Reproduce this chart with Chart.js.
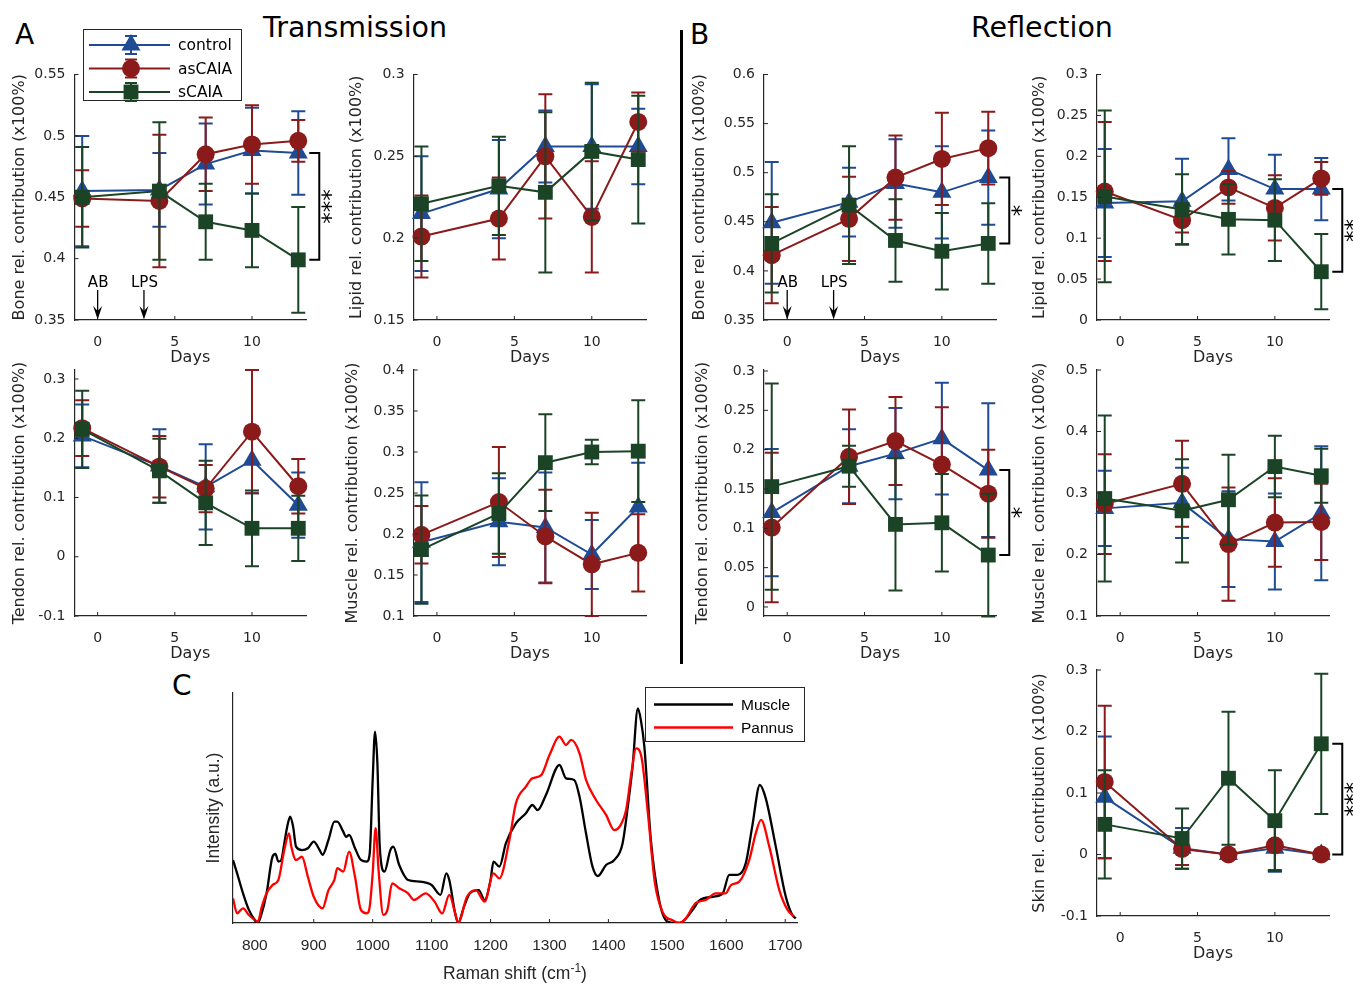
<!DOCTYPE html>
<html>
<head>
<meta charset="utf-8">
<title>Transmission / Reflection contributions</title>
<script src="https://cdn.jsdelivr.net/npm/chart.js@4.4.1/dist/chart.umd.min.js"></script>
<style>
  html, body { margin:0; padding:0; background:#ffffff; }
  #fig { position:relative; width:1353px; height:984px; overflow:hidden; background:#fff; }
  #fig canvas { position:absolute; left:0; top:0; }
  .lbl { position:absolute; line-height:0; white-space:nowrap; font-family:'DejaVu Sans', sans-serif; color:#000; }
  #divider { position:absolute; left:680px; top:30px; width:3px; height:634px; background:#000; }
</style>
</head>
<body>
<div id="fig">
  <div class="lbl" style="left:15px; top:35.3px; font-size:28px;">A</div>
  <div class="lbl" style="left:690px; top:35.3px; font-size:28px;">B</div>
  <div class="lbl" style="left:172px; top:686.3px; font-size:28px;">C</div>
  <div class="lbl" style="left:355px; top:28.1px; font-size:28.5px; transform:translateX(-50%);">Transmission</div>
  <div class="lbl" style="left:1042px; top:28.1px; font-size:28.5px; transform:translateX(-50%);">Reflection</div>
  <div id="divider"></div>
</div>
<script>
// ================= DATA =================
const days = [-1, 4, 7, 10, 13];
const dayTicks = [0, 5, 10];
const groupNames = ['control', 'asCAIA', 'sCAIA'];
const treatmentDays = [0, 3];
const treatmentLabels = ['AB', 'LPS'];

// ---- A: Transmission ----
const transBoneControl   = [0.455, 0.456, 0.477, 0.488, 0.486];
const transBoneControlSD = [0.045, 0.030, 0.033, 0.035, 0.034];
const transBoneAs        = [0.449, 0.447, 0.485, 0.493, 0.496];
const transBoneAsSD      = [0.023, 0.054, 0.030, 0.032, 0.017];
const transBoneS         = [0.450, 0.455, 0.430, 0.423, 0.399];
const transBoneSSD       = [0.041, 0.056, 0.031, 0.030, 0.043];
const transBoneTicks     = [0.35, 0.4, 0.45, 0.5, 0.55];

const transLipidControl   = [0.215, 0.230, 0.256, 0.256, 0.256];
const transLipidControlSD = [0.035, 0.030, 0.022, 0.038, 0.023];
const transLipidAs        = [0.201, 0.212, 0.250, 0.213, 0.271];
const transLipidAsSD      = [0.025, 0.025, 0.038, 0.034, 0.018];
const transLipidS         = [0.221, 0.232, 0.228, 0.253, 0.248];
const transLipidSSD       = [0.035, 0.030, 0.049, 0.042, 0.039];
const transLipidTicks     = [0.15, 0.2, 0.25, 0.3];

const transTendonControl   = [0.204, 0.153, 0.118, 0.163, 0.087];
const transTendonControlSD = [0.053, 0.062, 0.072, 0.056, 0.055];
const transTendonAs        = [0.217, 0.152, 0.115, 0.211, 0.119];
const transTendonAsSD      = [0.047, 0.052, 0.040, 0.104, 0.046];
const transTendonS         = [0.215, 0.145, 0.091, 0.048, 0.048];
const transTendonSSD       = [0.065, 0.054, 0.071, 0.064, 0.055];
const transTendonTicks     = [-0.1, 0, 0.1, 0.2, 0.3];

const transMuscleControl   = [0.190, 0.215, 0.208, 0.175, 0.233];
const transMuscleControlSD = [0.073, 0.053, 0.067, 0.042, 0.054];
const transMuscleAs        = [0.199, 0.239, 0.197, 0.163, 0.177];
const transMuscleAsSD      = [0.035, 0.067, 0.057, 0.063, 0.047];
const transMuscleS         = [0.181, 0.225, 0.287, 0.300, 0.301];
const transMuscleSSD       = [0.066, 0.049, 0.059, 0.015, 0.062];
const transMuscleTicks     = [0.1, 0.15, 0.2, 0.25, 0.3, 0.35, 0.4];

// ---- B: Reflection ----
const reflBoneControl   = [0.449, 0.470, 0.489, 0.480, 0.495];
const reflBoneControlSD = [0.062, 0.035, 0.045, 0.047, 0.048];
const reflBoneAs        = [0.416, 0.453, 0.495, 0.514, 0.525];
const reflBoneAsSD      = [0.049, 0.043, 0.043, 0.047, 0.037];
const reflBoneS         = [0.428, 0.467, 0.431, 0.420, 0.428];
const reflBoneSSD       = [0.050, 0.060, 0.042, 0.039, 0.041];
const reflBoneTicks     = [0.35, 0.4, 0.45, 0.5, 0.55, 0.6];

const reflLipidControl   = [0.143, 0.145, 0.184, 0.160, 0.160];
const reflLipidControlSD = [0.066, 0.052, 0.038, 0.042, 0.038];
const reflLipidAs        = [0.157, 0.122, 0.162, 0.137, 0.173];
const reflLipidAsSD      = [0.085, 0.015, 0.020, 0.040, 0.020];
const reflLipidS         = [0.151, 0.135, 0.123, 0.122, 0.059];
const reflLipidSSD       = [0.105, 0.043, 0.043, 0.050, 0.046];
const reflLipidTicks     = [0, 0.05, 0.1, 0.15, 0.2, 0.25, 0.3];

const reflTendonControl   = [0.120, 0.179, 0.195, 0.214, 0.174];
const reflTendonControlSD = [0.081, 0.047, 0.058, 0.071, 0.085];
const reflTendonAs        = [0.101, 0.191, 0.211, 0.181, 0.144];
const reflTendonAsSD      = [0.095, 0.060, 0.056, 0.073, 0.056];
const reflTendonS         = [0.153, 0.179, 0.105, 0.107, 0.066];
const reflTendonSSD       = [0.131, 0.026, 0.084, 0.062, 0.078];
const reflTendonTicks     = [0, 0.05, 0.1, 0.15, 0.2, 0.25, 0.3];

const reflMuscleControl   = [0.275, 0.284, 0.225, 0.221, 0.267];
const reflMuscleControlSD = [0.061, 0.057, 0.078, 0.078, 0.109];
const reflMuscleAs        = [0.282, 0.315, 0.217, 0.252, 0.253];
const reflMuscleAsSD      = [0.081, 0.070, 0.092, 0.072, 0.062];
const reflMuscleS         = [0.291, 0.271, 0.289, 0.343, 0.328];
const reflMuscleSSD       = [0.135, 0.084, 0.073, 0.050, 0.044];
const reflMuscleTicks     = [0.1, 0.2, 0.3, 0.4, 0.5];

const reflSkinControl   = [0.093, 0.010, 0.000, 0.010, 0.000];
const reflSkinControlSD = [0.099, 0.033, 0.003, 0.038, 0.003];
const reflSkinAs        = [0.118, 0.009, 0.000, 0.015, 0.000];
const reflSkinAsSD      = [0.124, 0.026, 0.003, 0.040, 0.003];
const reflSkinS         = [0.049, 0.026, 0.124, 0.055, 0.180];
const reflSkinSSD       = [0.088, 0.049, 0.108, 0.082, 0.114];
const reflSkinTicks     = [-0.1, 0, 0.1, 0.2, 0.3];

// ---- C: Raman spectra ----
const shiftTicks = [800, 900, 1000, 1100, 1200, 1300, 1400, 1500, 1600, 1700];
const muscleShift = [763,770,780,790,800,805,810,820,830,835,840,845,850,855,860,865,870,880,890,900,910,915,925,935,940,950,955,960,970,980,990,995,1000,1004,1008,1012,1020,1030,1035,1045,1060,1080,1100,1115,1125,1130,1140,1145,1155,1165,1180,1190,1200,1205,1215,1226,1243,1260,1271,1280,1294,1317,1328,1342,1351,1362,1373,1382,1396,1410,1424,1435,1441,1450,1455,1461,1472,1486,1500,1514,1526,1543,1554,1577,1594,1605,1619,1633,1644,1657,1667,1684,1701,1712,1718];
const muscleIntensity = [0.274,0.216,0.129,0.057,0.013,0.000,0.028,0.129,0.288,0.300,0.267,0.274,0.346,0.419,0.462,0.419,0.332,0.317,0.325,0.354,0.317,0.296,0.361,0.441,0.441,0.397,0.375,0.383,0.325,0.274,0.267,0.303,0.622,0.832,0.694,0.332,0.223,0.317,0.332,0.252,0.187,0.180,0.165,0.122,0.216,0.187,0.042,0.001,0.071,0.129,0.143,0.100,0.187,0.267,0.245,0.346,0.433,0.477,0.513,0.491,0.557,0.687,0.629,0.622,0.549,0.390,0.245,0.204,0.252,0.274,0.346,0.549,0.680,0.933,0.883,0.767,0.361,0.100,0.006,0.000,0.006,0.057,0.097,0.114,0.129,0.209,0.209,0.259,0.419,0.600,0.542,0.332,0.114,0.035,0.020];
const pannusShift = [763,770,780,790,800,805,812,820,830,840,850,858,862,870,880,890,900,915,925,935,940,950,960,970,980,990,995,1000,1005,1010,1018,1025,1033,1045,1060,1070,1090,1105,1118,1130,1140,1145,1160,1175,1190,1205,1215,1232,1243,1260,1271,1286,1300,1317,1328,1337,1351,1362,1379,1396,1410,1419,1430,1439,1447,1456,1467,1479,1493,1508,1520,1531,1548,1565,1582,1599,1608,1622,1639,1650,1659,1673,1690,1704,1715];
const pannusIntensity = [0.107,0.042,0.064,0.035,0.013,0.006,0.071,0.129,0.165,0.187,0.317,0.390,0.332,0.274,0.288,0.201,0.114,0.064,0.143,0.187,0.238,0.223,0.310,0.201,0.057,0.042,0.071,0.216,0.412,0.230,0.035,0.057,0.172,0.151,0.129,0.100,0.129,0.093,0.042,0.122,0.042,0.001,0.114,0.143,0.093,0.216,0.194,0.361,0.520,0.593,0.629,0.643,0.730,0.810,0.774,0.796,0.738,0.622,0.535,0.470,0.404,0.419,0.491,0.651,0.759,0.723,0.477,0.172,0.042,0.013,0.000,0.020,0.086,0.100,0.129,0.129,0.165,0.180,0.274,0.390,0.448,0.332,0.143,0.057,0.028];

// ================= STYLE / LAYOUT =================
const W = 1353, H = 984;
const AX = '#262626';
const STYLE = [
  {color:'#1f4a94', point:'triangle', r:11,   order:3},
  {color:'#8b1a1a', point:'circle',   r:9,    order:2},
  {color:'#1b4426', point:'rect',     r:10.5, order:1}
];
const X_H = 47;          // x-axis band height (ticks + "Days")
const TITLE_LH = 16 * 1.2;

const PANELS = [
  {key:'tBone', box:[74.5,74.5,306,320], yRange:[0.35,0.55], yTicks:transBoneTicks, yTitle:'Bone rel. contribution (x100%)', titleX:19.5,
   series:[[transBoneControl,transBoneControlSD],[transBoneAs,transBoneAsSD],[transBoneS,transBoneSSD]], sig:'***', arrows:true, legend:true},
  {key:'tLipid', box:[413.7,74.5,646,320], yRange:[0.15,0.3], yTicks:transLipidTicks, yTitle:'Lipid rel. contribution (x100%)', titleX:356.5,
   series:[[transLipidControl,transLipidControlSD],[transLipidAs,transLipidAsSD],[transLipidS,transLipidSSD]]},
  {key:'tTendon', box:[74.5,370,306,616], yRange:[-0.1,0.3152], yTicks:transTendonTicks, yTitle:'Tendon rel. contribution (x100%)', titleX:19.5,
   series:[[transTendonControl,transTendonControlSD],[transTendonAs,transTendonAsSD],[transTendonS,transTendonSSD]]},
  {key:'tMuscle', box:[413.7,370,646,616], yRange:[0.1,0.4], yTicks:transMuscleTicks, yTitle:'Muscle rel. contribution (x100%)', titleX:352.5,
   series:[[transMuscleControl,transMuscleControlSD],[transMuscleAs,transMuscleAsSD],[transMuscleS,transMuscleSSD]]},
  {key:'rBone', box:[764,74.5,996,320], yRange:[0.35,0.6], yTicks:reflBoneTicks, yTitle:'Bone rel. contribution (x100%)', titleX:699.5,
   series:[[reflBoneControl,reflBoneControlSD],[reflBoneAs,reflBoneAsSD],[reflBoneS,reflBoneSSD]], sig:'*', arrows:true},
  {key:'rLipid', box:[1097,74.5,1329,320], yRange:[0,0.3], yTicks:reflLipidTicks, yTitle:'Lipid rel. contribution (x100%)', titleX:1039.5,
   series:[[reflLipidControl,reflLipidControlSD],[reflLipidAs,reflLipidAsSD],[reflLipidS,reflLipidSSD]], sig:'**'},
  {key:'rTendon', box:[764,370,996,616], yRange:[-0.0115,0.3013], yTicks:reflTendonTicks, yTitle:'Tendon rel. contribution (x100%)', titleX:702.5,
   series:[[reflTendonControl,reflTendonControlSD],[reflTendonAs,reflTendonAsSD],[reflTendonS,reflTendonSSD]], sig:'*'},
  {key:'rMuscle', box:[1097,370,1329,616], yRange:[0.1,0.5], yTicks:reflMuscleTicks, yTitle:'Muscle rel. contribution (x100%)', titleX:1039.5,
   series:[[reflMuscleControl,reflMuscleControlSD],[reflMuscleAs,reflMuscleAsSD],[reflMuscleS,reflMuscleSSD]]},
  {key:'rSkin', box:[1097,670,1329,916], yRange:[-0.1,0.3], yTicks:reflSkinTicks, yTitle:'Skin rel. contribution (x100%)', titleX:1039.5,
   series:[[reflSkinControl,reflSkinControlSD],[reflSkinAs,reflSkinAsSD],[reflSkinS,reflSkinSSD]], sig:'***'}
];

Chart.defaults.font.family = "'DejaVu Sans', sans-serif";
Chart.defaults.color = AX;

function newCanvas() {
  const c = document.createElement('canvas');
  c.width = W; c.height = H;
  c.style.width = W + 'px'; c.style.height = H + 'px';
  document.getElementById('fig').appendChild(c);
  return c;
}

function drawMarker(ctx, style, x, y, r, color) {
  ctx.fillStyle = color;
  ctx.beginPath();
  if (style === 'circle') ctx.arc(x, y, r, 0, Math.PI * 2);
  else if (style === 'rect') { const s = r * Math.SQRT1_2; ctx.rect(x - s, y - s, 2 * s, 2 * s); }
  else { ctx.moveTo(x, y - r); ctx.lineTo(x + r * 0.866, y + r / 2); ctx.lineTo(x - r * 0.866, y + r / 2); ctx.closePath(); }
  ctx.fill();
}

const errorBarPlugin = {
  id: 'errorBars',
  beforeDatasetDraw(chart, args) {
    const ds = chart.data.datasets[args.index];
    if (!ds.errors) return;
    const ctx = chart.ctx, ys = chart.scales.y;
    ctx.save();
    ctx.strokeStyle = ds.borderColor;
    ctx.lineWidth = 2;
    ctx.beginPath();
    args.meta.data.forEach((pt, i) => {
      const v = ds.data[i].y, e = ds.errors[i];
      const x = pt.x;
      const y1 = ys.getPixelForValue(v + e), y2 = ys.getPixelForValue(v - e);
      ctx.moveTo(x, y1); ctx.lineTo(x, y2);
      ctx.moveTo(x - 7, y1); ctx.lineTo(x + 7, y1);
      ctx.moveTo(x - 7, y2); ctx.lineTo(x + 7, y2);
    });
    ctx.stroke();
    ctx.restore();
  }
};

function makeDecor(p) {
  return {
    id: 'decor_' + p.key,
    afterDraw(chart) {
      const ctx = chart.ctx, xs = chart.scales.x, ys = chart.scales.y, a = chart.chartArea;
      ctx.save();
      // inward tick marks
      ctx.strokeStyle = AX; ctx.lineWidth = 1;
      ctx.beginPath();
      xs.ticks.forEach(t => { const px = xs.getPixelForValue(t.value); ctx.moveTo(px, a.bottom); ctx.lineTo(px, a.bottom - 4); });
      ys.ticks.forEach(t => { const py = ys.getPixelForValue(t.value); ctx.moveTo(a.left, py); ctx.lineTo(a.left + 4, py); });
      ctx.stroke();

      // treatment arrows
      if (p.arrows) {
        treatmentDays.forEach((d, k) => {
          const px = xs.getPixelForValue(d);
          ctx.fillStyle = '#000';
          ctx.font = "15px 'DejaVu Sans'";
          ctx.textAlign = 'center'; ctx.textBaseline = 'alphabetic';
          ctx.fillText(treatmentLabels[k], px + 0.5, a.bottom - 33);
          ctx.strokeStyle = '#000'; ctx.lineWidth = 1.3;
          ctx.beginPath(); ctx.moveTo(px, a.bottom - 30); ctx.lineTo(px, a.bottom - 8); ctx.stroke();
          ctx.beginPath();
          ctx.moveTo(px, a.bottom - 0.5);
          ctx.lineTo(px - 4.5, a.bottom - 14);
          ctx.lineTo(px, a.bottom - 9);
          ctx.lineTo(px + 4.5, a.bottom - 14);
          ctx.closePath(); ctx.fill();
        });
      }

      // significance bracket (control vs sCAIA at last day)
      if (p.sig) {
        const last = days.length - 1;
        const px = xs.getPixelForValue(days[last]);
        const yTop = ys.getPixelForValue(p.series[0][0][last]);
        const yBot = ys.getPixelForValue(p.series[2][0][last]);
        ctx.strokeStyle = '#000'; ctx.lineWidth = 2;
        ctx.beginPath();
        ctx.moveTo(px + 11, yTop); ctx.lineTo(px + 21, yTop); ctx.lineTo(px + 21, yBot); ctx.lineTo(px + 11, yBot);
        ctx.stroke();
        ctx.save();
        ctx.translate(px + 23, (yTop + yBot) / 2);
        ctx.rotate(Math.PI / 2);
        ctx.font = "23px 'DejaVu Sans'"; ctx.textAlign = 'center'; ctx.textBaseline = 'middle'; ctx.fillStyle = '#000';
        ctx.fillText(p.sig, 0, 0);
        ctx.restore();
      }

      // legend
      if (p.legend) {
        ctx.fillStyle = '#fff'; ctx.fillRect(83.5, 29.5, 158, 71);
        ctx.strokeStyle = AX; ctx.lineWidth = 1; ctx.strokeRect(83.5, 29.5, 158, 71);
        const ly = [45, 68.5, 92];
        groupNames.forEach((name, g) => {
          const y = ly[g], c = STYLE[g].color;
          ctx.strokeStyle = c; ctx.lineWidth = 2;
          ctx.beginPath();
          ctx.moveTo(89, y); ctx.lineTo(170, y);
          ctx.moveTo(131, y - 9); ctx.lineTo(131, y + 9);
          ctx.moveTo(125, y - 9); ctx.lineTo(137, y - 9);
          ctx.moveTo(125, y + 9); ctx.lineTo(137, y + 9);
          ctx.stroke();
          drawMarker(ctx, STYLE[g].point, 131, y, STYLE[g].r, c);
          ctx.fillStyle = '#000'; ctx.font = "15.5px 'DejaVu Sans'";
          ctx.textAlign = 'left'; ctx.textBaseline = 'middle';
          ctx.fillText(name, 178, y + 1);
        });
      }
      ctx.restore();
    }
  };
}

function groupDatasets(series) {
  return series.map((s, g) => ({
    label: groupNames[g],
    data: days.map((d, i) => ({x: d, y: s[0][i]})),
    errors: s[1],
    borderColor: STYLE[g].color,
    backgroundColor: STYLE[g].color,
    pointBackgroundColor: STYLE[g].color,
    pointBorderColor: STYLE[g].color,
    pointStyle: STYLE[g].point,
    pointRadius: STYLE[g].r,
    pointHoverRadius: STYLE[g].r,
    pointBorderWidth: 0,
    borderWidth: 2,
    tension: 0,
    fill: false,
    order: STYLE[g].order,
    clip: false
  }));
}

const fmt = v => String(parseFloat(Number(v).toFixed(3)));

PANELS.forEach(p => {
  const [l, t, r, b] = p.box;
  const yW = l - p.titleX + TITLE_LH / 2;
  new Chart(newCanvas(), {
    type: 'line',
    data: { datasets: groupDatasets(p.series) },
    options: {
      responsive: false, animation: false, devicePixelRatio: 1, events: [],
      layout: { padding: { left: l - yW, top: t, right: W - r, bottom: H - b - X_H } },
      plugins: { legend: { display: false }, tooltip: { enabled: false }, title: { display: false } },
      scales: {
        x: {
          type: 'linear', min: -1.5, max: 13.5,
          afterBuildTicks: s => { s.ticks = dayTicks.map(v => ({value: v})); },
          afterFit: s => { s.height = X_H; },
          grid: { display: false, drawTicks: false },
          border: { display: true, color: AX, width: 1.2 },
          ticks: { padding: 13.5, font: { size: 14 }, color: AX, maxRotation: 0, autoSkip: false, callback: fmt },
          title: { display: true, text: 'Days', font: { size: 16 }, color: AX, padding: 0 }
        },
        y: {
          type: 'linear', min: p.yRange[0], max: p.yRange[1],
          afterBuildTicks: s => { s.ticks = p.yTicks.map(v => ({value: v})); },
          afterFit: s => { s.width = yW; },
          grid: { display: false, drawTicks: false },
          border: { display: true, color: AX, width: 1.2 },
          ticks: { padding: 9, font: { size: 14 }, color: AX, autoSkip: false, callback: fmt },
          title: { display: true, text: p.yTitle, font: { size: 16 }, color: AX, padding: 0 }
        }
      }
    },
    plugins: [errorBarPlugin, makeDecor(p)]
  });
});

// ---------- Panel C: spectra ----------
const SPEC = {box:[233, 693, 797, 923], titleX:214};
const specTitleLH = 17.5 * 1.2;
const specYW = SPEC.box[0] - SPEC.titleX + specTitleLH / 2;
const specXH = 40;

const specDecor = {
  id: 'specDecor',
  afterDraw(chart) {
    const ctx = chart.ctx, xs = chart.scales.x, a = chart.chartArea;
    ctx.save();
    ctx.strokeStyle = AX; ctx.lineWidth = 1;
    ctx.beginPath();
    xs.ticks.forEach(t => { const px = xs.getPixelForValue(t.value); ctx.moveTo(px, a.bottom); ctx.lineTo(px, a.bottom - 4); });
    ctx.stroke();
    // x title with superscript
    const main = 'Raman shift (cm', sup = '-1', close = ')';
    ctx.fillStyle = AX; ctx.textBaseline = 'alphabetic'; ctx.textAlign = 'left';
    ctx.font = "17.5px 'Liberation Sans'";
    const w1 = ctx.measureText(main).width, w3 = ctx.measureText(close).width;
    ctx.font = "12px 'Liberation Sans'";
    const w2 = ctx.measureText(sup).width;
    const x0 = (a.left + a.right) / 2 - (w1 + w2 + w3) / 2;
    const base = a.bottom + 56;
    ctx.font = "17.5px 'Liberation Sans'";
    ctx.fillText(main, x0, base);
    ctx.fillText(close, x0 + w1 + w2, base);
    ctx.font = "12px 'Liberation Sans'";
    ctx.fillText(sup, x0 + w1, base - 7);
    // legend
    ctx.fillStyle = '#fff'; ctx.fillRect(645.5, 687.5, 159, 54);
    ctx.strokeStyle = AX; ctx.lineWidth = 1; ctx.strokeRect(645.5, 687.5, 159, 54);
    chart.data.datasets.forEach((ds, i) => {
      const y = [704.5, 727.5][i];
      ctx.strokeStyle = ds.borderColor; ctx.lineWidth = 2.5;
      ctx.beginPath(); ctx.moveTo(654, y); ctx.lineTo(733, y); ctx.stroke();
      ctx.fillStyle = '#000'; ctx.font = "15.5px 'Liberation Sans'"; ctx.textBaseline = 'middle';
      ctx.fillText(ds.label, 741, y + 1);
    });
    ctx.restore();
  }
};

new Chart(newCanvas(), {
  type: 'line',
  data: {
    datasets: [
      { label: 'Muscle', data: muscleShift.map((x, i) => ({x, y: muscleIntensity[i]})), borderColor: '#000000', backgroundColor: '#000000',
        borderWidth: 2.3, pointRadius: 0, cubicInterpolationMode: 'monotone', fill: false, order: 2 },
      { label: 'Pannus', data: pannusShift.map((x, i) => ({x, y: pannusIntensity[i]})), borderColor: '#ff0000', backgroundColor: '#ff0000',
        borderWidth: 2.3, pointRadius: 0, cubicInterpolationMode: 'monotone', fill: false, order: 1 }
    ]
  },
  options: {
    responsive: false, animation: false, devicePixelRatio: 1, events: [],
    layout: { padding: { left: SPEC.box[0] - specYW, top: SPEC.box[1], right: W - SPEC.box[2], bottom: H - SPEC.box[3] - specXH } },
    plugins: { legend: { display: false }, tooltip: { enabled: false } },
    scales: {
      x: {
        type: 'linear', min: 763, max: 1720,
        afterBuildTicks: s => { s.ticks = shiftTicks.map(v => ({value: v})); },
        afterFit: s => { s.height = specXH; },
        grid: { display: false, drawTicks: false },
        border: { display: true, color: AX, width: 1.2 },
        ticks: { padding: 13, font: { size: 15.5, family: "'Liberation Sans', sans-serif" }, color: AX, maxRotation: 0, autoSkip: false,
                 callback: v => String(v) },
        title: { display: false }
      },
      y: {
        type: 'linear', min: 0, max: 1,
        afterFit: s => { s.width = specYW; },
        grid: { display: false, drawTicks: false },
        border: { display: true, color: AX, width: 1.2 },
        ticks: { display: false },
        title: { display: true, text: 'Intensity (a.u.)', font: { size: 17.5, family: "'Liberation Sans', sans-serif" }, color: AX, padding: 0 }
      }
    }
  },
  plugins: [specDecor]
});
</script>
</body>
</html>
